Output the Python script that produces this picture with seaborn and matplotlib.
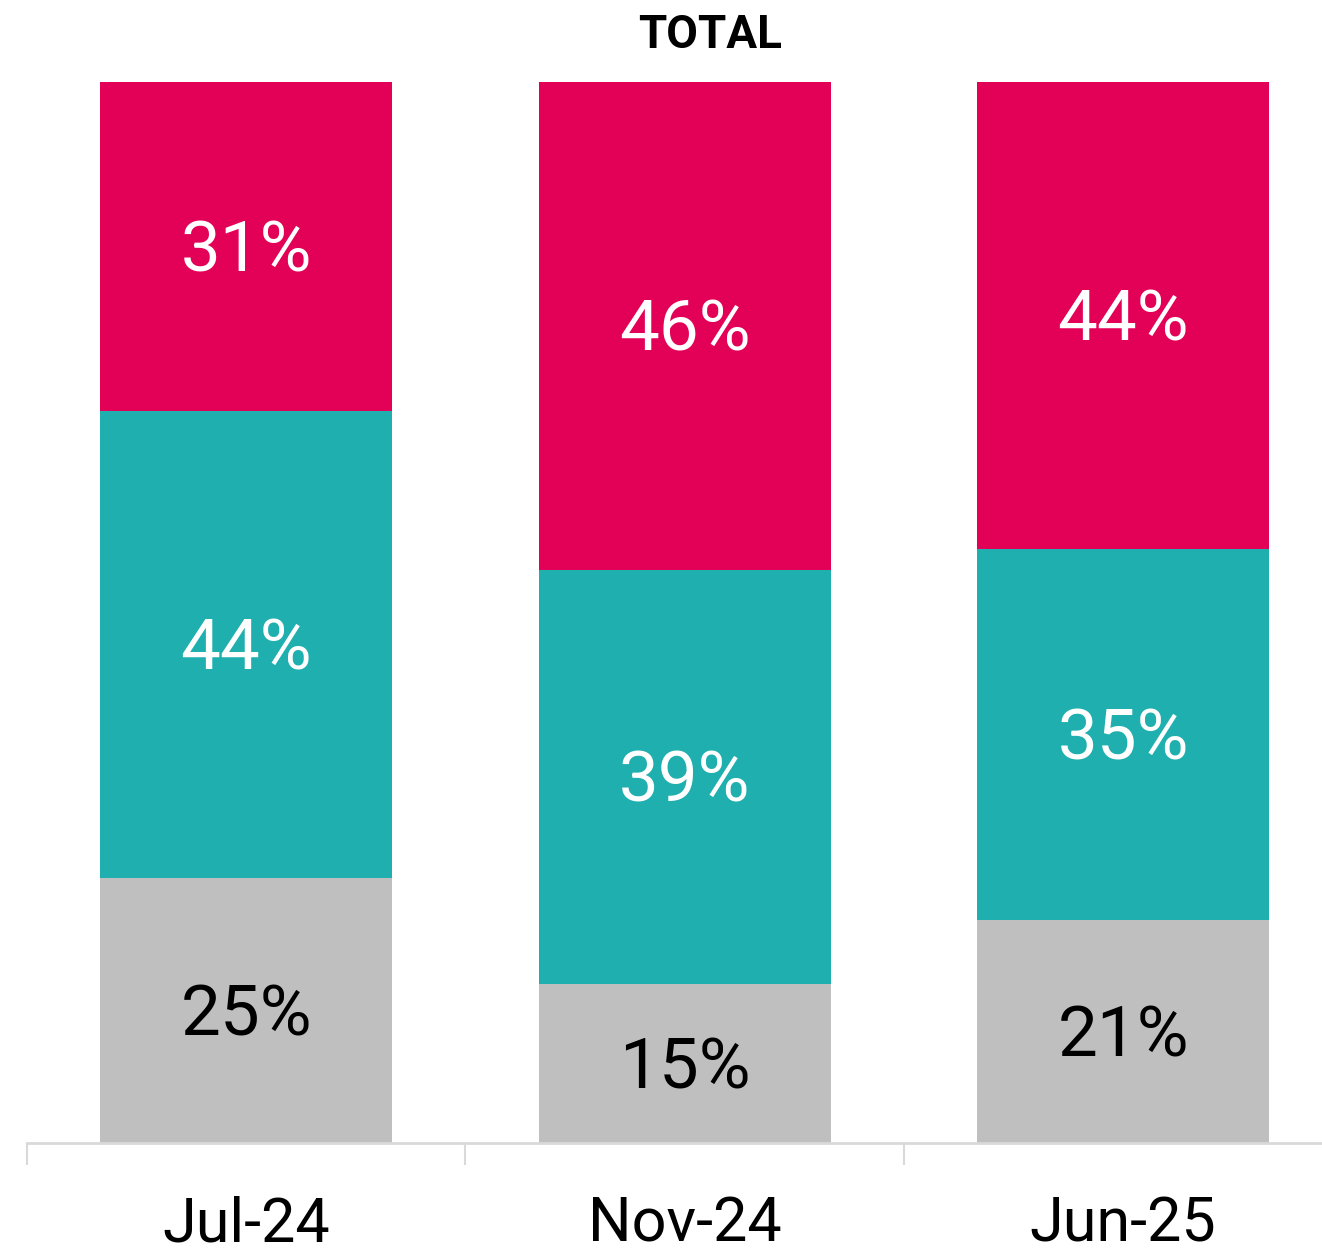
import matplotlib
matplotlib.use("Agg")
import matplotlib.pyplot as plt
import seaborn as sns
import pandas as pd
import numpy as np

sns.set_style("white")
plt.rcParams['font.family'] = ['Roboto', 'DejaVu Sans']

# Daten
periods = ["Jul-24", "Nov-24", "Jun-25"]
grey_vals = [25, 15, 21]
teal_vals = [44, 39, 35]
red_vals = [31, 46, 44]

colors = {"grey": "#BFBFBF", "teal": "#1FAFAF", "red": "#E30057"}

df = pd.DataFrame({"period": periods, "grey": grey_vals, "teal": teal_vals, "red": red_vals})
df["c1"] = df["grey"]
df["c2"] = df["c1"] + df["teal"]
df["c3"] = df["c2"] + df["red"]

W, H = 1322, 1258
fig = plt.figure(figsize=(W / 100, H / 100), dpi=100)
ax = fig.add_axes([27 / W, 1 - 1143 / H, (1322 - 27) / W, (1143 - 82) / H])

# gestapelte Balken: von oben nach unten zeichnen
for col, key in [("c3", "red"), ("c2", "teal"), ("c1", "grey")]:
    sns.barplot(data=df, x="period", y=col, color=colors[key], width=0.666,
                saturation=1, ax=ax, linewidth=0)

# Beschriftungen
for i, row in df.iterrows():
    segs = [(0, row["grey"], "black"), (row["c1"], row["teal"], "white"), (row["c2"], row["red"], "white")]
    for base, val, tc in segs:
        ax.text(i, base + val / 2 - 0.5, f"{val}%", ha="center", va="center",
                fontsize=51, color=tc, fontweight="normal")

ax.set_xlim(-0.5, -0.5 + (1322 - 27) / 438.5)
ax.set_ylim(0, 100)
ax.set_xlabel("")
ax.set_ylabel("")
ax.set_yticks([])
for s in ["top", "right", "left"]:
    ax.spines[s].set_visible(False)
ax.spines["bottom"].set_color("#D9D9D9")
ax.spines["bottom"].set_linewidth(2)

ax.set_xticks([0, 1, 2])
ax.set_xticklabels(periods, fontsize=44, fontweight="normal", color="black")
ax.tick_params(axis="x", which="major", bottom=False, length=0, pad=38)
ax.set_xticks([-0.5, 0.5, 1.5], minor=True)
ax.tick_params(axis="x", which="minor", bottom=True, length=16, width=1.5, color="#D9D9D9")

fig.text(710 / W, 1 - 35 / H, "TOTAL", ha="center", va="center", fontsize=33,
         fontweight="bold", color="black")

fig.savefig("out.png", dpi=100)
